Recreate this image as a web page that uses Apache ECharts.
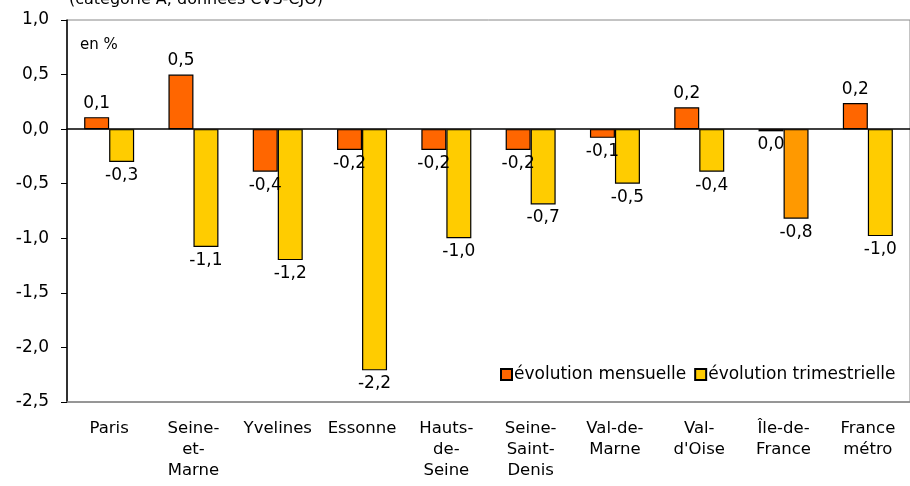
<!DOCTYPE html>
<html>
<head>
<meta charset="utf-8">
<script src="https://cdn.jsdelivr.net/npm/echarts@6/dist/echarts.min.js"></script>
<style>
  html, body { margin: 0; padding: 0; background: #fff; }
  #chart { width: 910px; height: 486px; }
</style>
</head>
<body>
<div id="chart"></div>
<script>
// Demandeurs d'emploi, catégorie A
const categories = ['Paris', 'Seine-\net-\nMarne', 'Yvelines', 'Essonne', 'Hauts-\nde-\nSeine',
  'Seine-\nSaint-\nDenis', 'Val-de-\nMarne', "Val-\nd'Oise", 'Île-de-\nFrance', 'France\nmétro'];
const mensuelle = [0.11, 0.5, -0.39, -0.19, -0.19, -0.19, -0.08, 0.2, -0.02, 0.24];
const trimestrielle = [-0.3, -1.08, -1.2, -2.21, -1.0, -0.69, -0.5, -0.39, -0.82, -0.98];
const yTicks = { min: -2.5, max: 1, interval: 0.5 };

const font = 'DejaVu Sans';

function fr(v) {
  let s = v.toFixed(1);
  if (s === '-0.0') s = '0.0';
  return s.replace('.', ',');
}

function barData(values, highlightIdx, highlightColor) {
  return values.map((v, i) => ({
    value: v,
    itemStyle: i === highlightIdx ? { color: highlightColor } : undefined,
    label: { position: v >= 0 ? 'top' : 'bottom' },
  }));
}

const chart = echarts.init(document.getElementById('chart'));
chart.setOption({
  animation: false,
  title: {
    text: '(catégorie A, données CVS-CJO)',
    left: 64, top: -13,
    textStyle: { fontFamily: font, fontSize: 16, fontWeight: 'normal', color: '#000' },
  },
  legend: {
    left: 495, top: 361,
    itemWidth: 11, itemHeight: 11, itemGap: 8,
    icon: 'rect',
    textStyle: { fontFamily: font, fontSize: 17, color: '#000', padding: [0, 0, 0, -3] },
    data: ['évolution mensuelle', 'évolution trimestrielle'],
  },
  graphic: [{
    type: 'text', left: 80, top: 38,
    style: { text: 'en %', fontFamily: font, fontSize: 15, fill: '#000' },
  }],
  grid: { left: 67, right: 0, top: 20, bottom: 84, show: true, borderColor: '#888', borderWidth: 1 },
  xAxis: [{
    type: 'category', data: categories, position: 'bottom',
    axisLine: { onZero: false, lineStyle: { color: '#888', width: 1.5 } },
    axisTick: { show: false },
    axisLabel: { interval: 0, margin: 16, fontFamily: font, fontSize: 16.5, color: '#000', lineHeight: 21 },
  }, {
    type: 'category', data: categories, position: 'top',
    axisLine: { onZero: true, lineStyle: { color: '#000', width: 1.5 } },
    axisTick: { inside: true, length: 5, lineStyle: { color: '#000' } },
    axisLabel: { show: false },
  }],
  yAxis: {
    type: 'value', ...yTicks,
    axisLine: { show: true, lineStyle: { color: '#000', width: 1.5 } },
    axisTick: { show: true, length: 6, lineStyle: { color: '#000' } },
    splitLine: { show: false },
    axisLabel: { fontFamily: font, fontSize: 17, color: '#000', margin: 18, formatter: v => fr(v) },
  },
  series: [{
    name: 'évolution mensuelle', type: 'bar', barWidth: 25, barGap: '0%',
    data: barData(mensuelle, -1),
    itemStyle: { color: '#FF6600', borderColor: '#000', borderWidth: 1.2 },
    label: { show: true, distance: 5, fontFamily: font, fontSize: 17, color: '#000', formatter: p => fr(p.value) },
  }, {
    name: 'évolution trimestrielle', type: 'bar', barWidth: 25, barGap: '0%',
    data: barData(trimestrielle, 8, '#FF9900'),
    itemStyle: { color: '#FFCC00', borderColor: '#000', borderWidth: 1.2 },
    label: { show: true, distance: 5, fontFamily: font, fontSize: 17, color: '#000', formatter: p => fr(p.value) },
  }],
});
window.addEventListener('resize', () => chart.resize());
</script>
</body>
</html>
